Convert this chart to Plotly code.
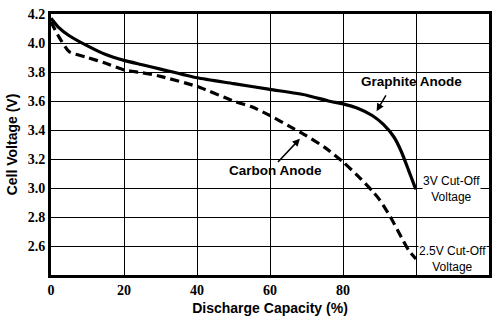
import plotly.graph_objects as go

# Graphite anode (solid)
graphite_x = [0, 2, 5, 10, 15, 20, 25, 30, 40, 50, 60, 70, 76, 80, 84, 88, 91, 94, 96, 98, 99.5, 100]
graphite_v = [4.17, 4.11, 4.05, 3.98, 3.92, 3.88, 3.85, 3.82, 3.76, 3.72, 3.68, 3.64, 3.60, 3.58, 3.55, 3.50,
              3.44, 3.35, 3.25, 3.12, 3.02, 2.99]

# Carbon anode (dashed)
carbon_x = [0, 2, 5, 10, 15, 20, 25, 30, 40, 50, 55, 60, 65, 70, 75, 80, 85, 88, 90, 93, 96, 98, 100]
carbon_v = [4.145, 4.05, 3.94, 3.90, 3.86, 3.815, 3.795, 3.77, 3.70, 3.60, 3.56, 3.50, 3.43, 3.36, 3.28, 3.18,
            3.06, 2.98, 2.92, 2.80, 2.66, 2.57, 2.51]

x_tickvals = [0, 20, 40, 60, 80, 100]
x_ticktext = ["0", "20", "40", "60", "80", ""]
y_tickvals = [2.4, 2.6, 2.8, 3.0, 3.2, 3.4, 3.6, 3.8, 4.0, 4.2]
y_ticktext = ["", "2.6", "2.8", "3.0", "3.2", "3.4", "3.6", "3.8", "4.0", "4.2"]

fig = go.Figure()
fig.add_trace(go.Scatter(x=graphite_x, y=graphite_v, mode="lines",
                         line=dict(color="black", width=3.2, shape="spline", smoothing=0.6),
                         showlegend=False, hoverinfo="skip"))
fig.add_trace(go.Scatter(x=carbon_x, y=carbon_v, mode="lines",
                         line=dict(color="black", width=3.2, dash="9px,5px", shape="spline", smoothing=0.6),
                         showlegend=False, hoverinfo="skip"))

tickfont = dict(family="'Times New Roman', 'Liberation Serif', serif", size=14, color="black", weight="bold")
fig.update_xaxes(range=[0, 120], tickvals=x_tickvals, ticktext=x_ticktext, showgrid=True,
                 gridcolor="black", gridwidth=1, showline=True, linecolor="black", linewidth=3,
                 mirror=True, ticks="", tickfont=tickfont, zeroline=False,
                 title=dict(text="<b>Discharge Capacity (%)</b>", standoff=7,
                            font=dict(family="Liberation Sans", size=14, color="black")))
fig.update_yaxes(range=[2.4, 4.2], tickvals=y_tickvals, ticktext=y_ticktext, showgrid=True,
                 gridcolor="black", gridwidth=1, showline=True, linecolor="black", linewidth=3,
                 mirror=True, ticks="", tickfont=tickfont, zeroline=False,
                 title=dict(text="<b>Cell Voltage (V)</b>", standoff=7,
                            font=dict(family="Liberation Sans", size=14, color="black")))

ann_font_b = dict(family="Liberation Sans", size=13.5, color="black")
ann_font = dict(family="Liberation Sans", size=12, color="black")
fig.add_annotation(x=98.8, y=3.735, text="<b>Graphite Anode</b>", showarrow=False, font=ann_font_b)
fig.add_annotation(x=89.2, y=3.53, ax=92.0, ay=3.649, axref="x", ayref="y", text="",
                   showarrow=True, arrowhead=2, arrowsize=1, arrowwidth=1.5, arrowcolor="black")
fig.add_annotation(x=61.5, y=3.124, text="<b>Carbon Anode</b>", showarrow=False, font=ann_font_b)
fig.add_annotation(x=68.2, y=3.34, ax=61.8, ay=3.169, axref="x", ayref="y", text="",
                   showarrow=True, arrowhead=2, arrowsize=1, arrowwidth=1.5, arrowcolor="black")
fig.add_annotation(x=109.7, y=2.995, text="3V Cut-Off<br>Voltage", showarrow=False, font=ann_font,
                   bgcolor="white", borderpad=0)
fig.add_annotation(x=110.0, y=2.511, text="2.5V Cut-Off<br>Voltage", showarrow=False, font=ann_font,
                   bgcolor="white", borderpad=0)

fig.update_layout(width=499, height=322, margin=dict(l=51, r=7, t=10, b=41),
                  paper_bgcolor="white", plot_bgcolor="white")
fig.write_html("out.html")
